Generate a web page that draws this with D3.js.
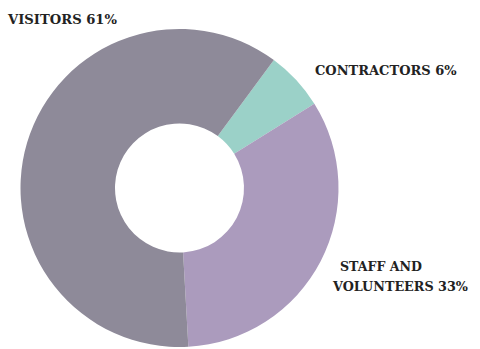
<!DOCTYPE html>
<html><head><meta charset="utf-8">
<script src="https://cdn.jsdelivr.net/npm/d3@7"></script>
<style>body{margin:0;background:#fff}svg{display:block}</style>
</head><body>
<svg id="c" width="480" height="349"></svg>
<script>
const categories = ["CONTRACTORS", "STAFF AND VOLUNTEERS", "VISITORS"];
const values = [6, 33, 61];
const colors = ["#9bd1c8", "#ab9bbd", "#8e8a99"];
const labelLines = [["CONTRACTORS 6%"], ["STAFF AND", "VOLUNTEERS 33%"], ["VISITORS 61%"]];

const svg = d3.select("#c");
const cx = 179.5, cy = 188, R = 159, r = 64.5;
const start = 36.4 * Math.PI / 180;
const pie = d3.pie().sort(null).value(d => d).startAngle(start).endAngle(start + 2 * Math.PI);
const arc = d3.arc().innerRadius(r).outerRadius(R);
const g = svg.append("g").attr("transform", `translate(${cx},${cy})`);
g.selectAll("path").data(pie(values)).join("path")
  .attr("d", arc).attr("fill", (d, i) => colors[i]);

const labelPos = [[[315, 75, 141]], [[340, 271, 82], [333, 291, 135]], [[8, 24, 109]]];
const font = "'DejaVu Serif', 'Liberation Serif', serif";
labelLines.forEach((lines, i) => {
  lines.forEach((t, j) => {
    const p = labelPos[i][j];
    const el = svg.append("text")
      .attr("x", p[0]).attr("y", p[1])
      .attr("font-family", font).attr("font-weight", "bold").attr("font-size", 13)
      .attr("fill", "#222")
      .text(t);
    const w = el.node().getComputedTextLength();
    if (Math.abs(w - p[2]) > 1) el.attr("textLength", p[2]).attr("lengthAdjust", "spacingAndGlyphs");
  });
});
</script>
</body></html>
